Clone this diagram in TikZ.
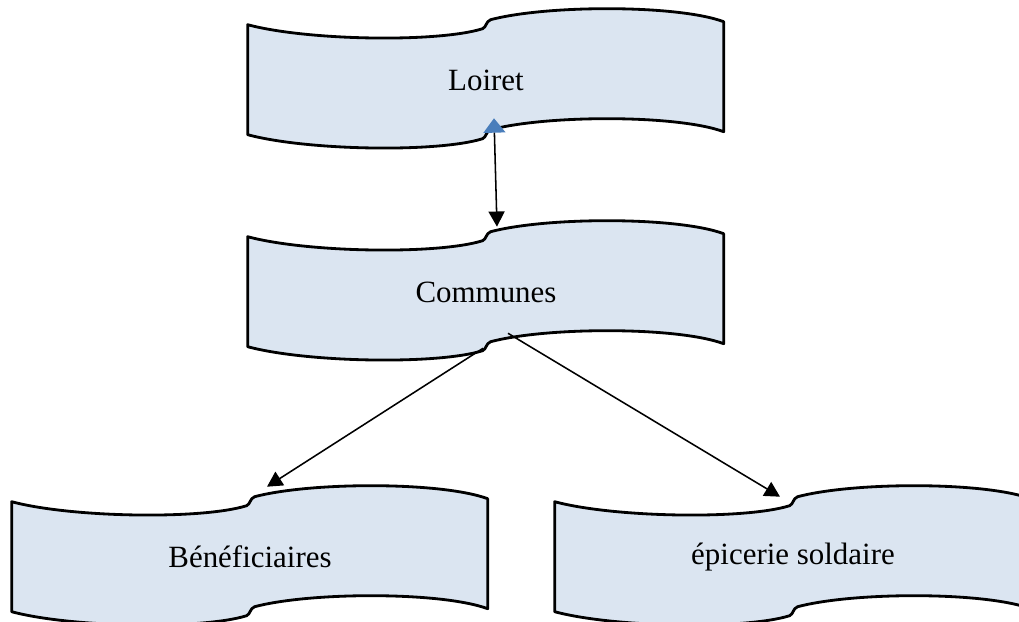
\documentclass[tikz,border=0pt]{standalone}
\usepackage{fontspec}
\setmainfont{Liberation Serif}
\usepackage{tikz}
\usetikzlibrary{arrows.meta, backgrounds}

\definecolor{bannerfill}{HTML}{DBE5F1}
\definecolor{tipblue}{HTML}{4A7EBB}

\newcommand{\wavebox}[1]{%
  \begin{scope}[shift={(#1.north west)}]
    \filldraw[bannerline] (0,0) .. controls (60,16) and (190,18) .. (235,4)
      .. controls (239,2) and (238,-3) .. (243,-5)
      .. controls (300,-20) and (430,-20) .. (476,-3)
      -- (476,107)
      .. controls (430,90) and (300,90) .. (243,105)
      .. controls (238,107) and (239,112) .. (235,114)
      .. controls (190,128) and (60,126) .. (0,110) -- cycle;
  \end{scope}}

\begin{document}
\begin{tikzpicture}[x=0.025cm, y=-0.025cm,
    every node/.style={minimum width=11.9cm, minimum height=2.75cm, inner sep=0pt, font=\fontsize{22}{26}\selectfont},
    bannerline/.style={fill=bannerfill, draw=black, line width=2pt, line join=round},
    link/.style={line width=1.1pt, -{Triangle[length=0.38cm, width=0.4cm]}}]
    \useasboundingbox (0,0) rectangle (1019,622);

    \node (loiret) at (486,80) {Loiret};
    \node (communes) at (486,292) {Communes};
    \node (benef) at (250,557) {Bénéficiaires};
    \node (epicerie) at (793,557) {épicerie soldaire};

    \begin{scope}[on background layer]
    \wavebox{loiret}
    \wavebox{communes}
    \wavebox{benef}
    \wavebox{epicerie}
    \end{scope}

    \draw[link, {Triangle[length=0.36cm, width=0.55cm, color=tipblue]}-{Triangle[length=0.38cm, width=0.4cm]}]
        ([shift={(8,-17)}]loiret.south) -- ([shift={(11,-10)}]communes.north);
    \draw[link] ([shift={(-3,1)}]communes.south) -- ([shift={(17,-15)}]benef.north);
    \draw[link] ([shift={(22,-14)}]communes.south) -- ([shift={(-13,-5)}]epicerie.north);
\end{tikzpicture}
\end{document}
